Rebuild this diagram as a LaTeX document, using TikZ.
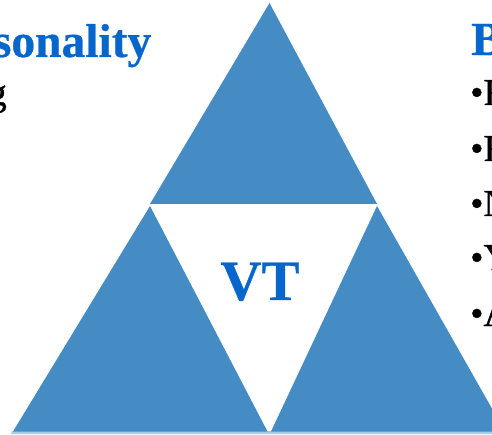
\documentclass[tikz,border=0pt]{standalone}
\usepackage{fontspec}
\setmainfont{Liberation Serif}
\newfontfamily\headfont[FakeBold=0.5]{Liberation Serif Bold}
\newfontfamily\itemfont[FakeBold=0.8]{Liberation Serif}
\definecolor{tri}{HTML}{458CC4}
\definecolor{triedge}{HTML}{A9CBE6}
\definecolor{head}{HTML}{0766CC}
\tikzset{
  heading/.style={inner sep=0pt,text=head,font=\fontsize{47.5}{47.5}\selectfont\headfont},
  itemline/.style={inner sep=0pt,anchor=base west,text=black,font=\fontsize{38}{38}\selectfont\itemfont},
  piece/.style={fill=tri}
}
\begin{document}
\begin{tikzpicture}[x=1pt,y=-1pt]
\useasboundingbox (0,0) rectangle (492,435);
\clip (0,0) rectangle (492,435);
\fill[white] (0,0) rectangle (492,435);
% bottom soft edge
\fill[triedge] (12,431) -- (506,431) -- (507,434) -- (11,434) -- cycle;
% triangles
\fill[piece] (269.5,3) -- (377,204) -- (150,204) -- cycle;
\fill[piece] (150,206) -- (267.5,431.5) -- (13,431.5) -- cycle;
\fill[piece] (377,206) -- (505,431.5) -- (271,431.5) -- cycle;
% text
\node[heading,anchor=base east] (title1) at (151.5,57) {sonality};
\node[itemline,anchor=base east] (tail1) at (7,105) {g};
\node[heading,anchor=base west] (title2) at (471,55) {B};
\node[itemline] (i1) at (470,105) {•F};
\node[itemline] (i2) at (470,161) {•F};
\node[itemline] (i3) at (470,216) {•N};
\node[itemline] (i4) at (470,270) {•Y};
\node[itemline] (i5) at (470,326) {•A};
\node[heading,anchor=base,font=\fontsize{57}{57}\selectfont\headfont] (vt) at (260,300) {VT};
\end{tikzpicture}
\end{document}
